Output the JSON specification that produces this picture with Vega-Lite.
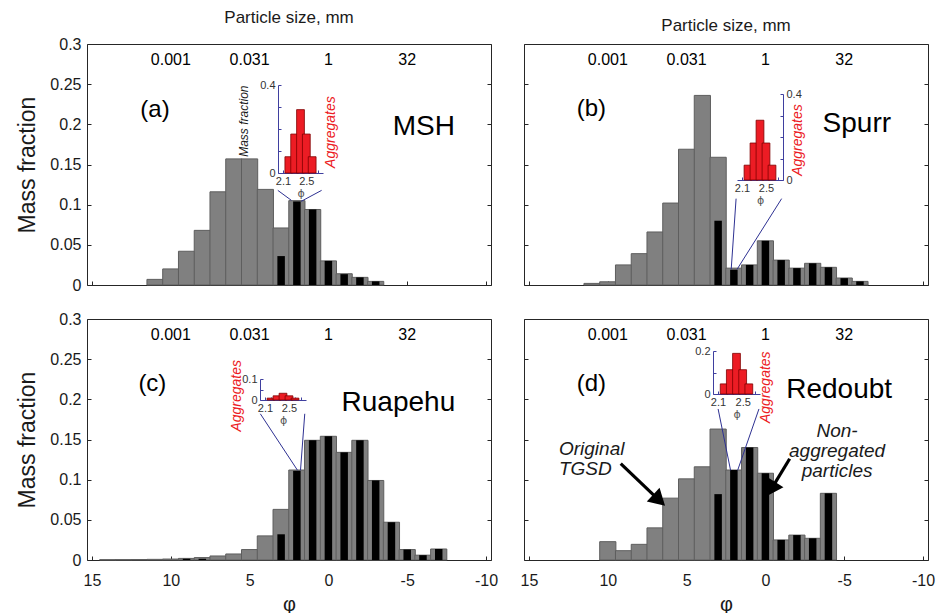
{
  "$schema": "https://vega.github.io/schema/vega-lite/v6.json",
  "padding": {"left": 16, "top": 8, "right": 0, "bottom": 0},
  "background": "white",
  "config": {
    "font": "Liberation Sans",
    "view": {"stroke": "#262626", "strokeWidth": 1},
    "axis": {"grid": false, "domain": false, "labelColor": "#1a1a1a", "titleColor": "#1a1a1a", "tickColor": "#262626", "titleFontWeight": "normal", "labelFlush": false, "labelOverlap": false},
    "title": {"fontWeight": "normal", "fontSize": 17, "color": "#1a1a1a", "offset": 9},
    "text": {"color": "#000000"}
  },
  "datasets": {
    "bars": [
      {"panel": "a", "phi": 11, "tgsd": 0.007},
      {"panel": "a", "phi": 10, "tgsd": 0.020},
      {"panel": "a", "phi": 9, "tgsd": 0.042},
      {"panel": "a", "phi": 8, "tgsd": 0.068},
      {"panel": "a", "phi": 7, "tgsd": 0.116},
      {"panel": "a", "phi": 6, "tgsd": 0.157},
      {"panel": "a", "phi": 5, "tgsd": 0.157},
      {"panel": "a", "phi": 4, "tgsd": 0.119},
      {"panel": "a", "phi": 3, "tgsd": 0.071, "nonagg": 0.036},
      {"panel": "a", "phi": 2, "tgsd": 0.105, "nonagg": 0.104},
      {"panel": "a", "phi": 1, "tgsd": 0.094, "nonagg": 0.094},
      {"panel": "a", "phi": 0, "tgsd": 0.030, "nonagg": 0.030},
      {"panel": "a", "phi": -1, "tgsd": 0.014, "nonagg": 0.0135},
      {"panel": "a", "phi": -2, "tgsd": 0.0095, "nonagg": 0.0095},
      {"panel": "a", "phi": -3, "tgsd": 0.0045, "nonagg": 0.0045},
      {"panel": "b", "phi": 11, "tgsd": 0.002},
      {"panel": "b", "phi": 10, "tgsd": 0.004},
      {"panel": "b", "phi": 9, "tgsd": 0.025},
      {"panel": "b", "phi": 8, "tgsd": 0.039},
      {"panel": "b", "phi": 7, "tgsd": 0.066},
      {"panel": "b", "phi": 6, "tgsd": 0.102},
      {"panel": "b", "phi": 5, "tgsd": 0.169},
      {"panel": "b", "phi": 4, "tgsd": 0.236},
      {"panel": "b", "phi": 3, "tgsd": 0.159, "nonagg": 0.080},
      {"panel": "b", "phi": 2, "tgsd": 0.021, "nonagg": 0.019},
      {"panel": "b", "phi": 1, "tgsd": 0.025, "nonagg": 0.025},
      {"panel": "b", "phi": 0, "tgsd": 0.055, "nonagg": 0.055},
      {"panel": "b", "phi": -1, "tgsd": 0.031, "nonagg": 0.031},
      {"panel": "b", "phi": -2, "tgsd": 0.021, "nonagg": 0.021},
      {"panel": "b", "phi": -3, "tgsd": 0.027, "nonagg": 0.027},
      {"panel": "b", "phi": -4, "tgsd": 0.022, "nonagg": 0.022},
      {"panel": "b", "phi": -5, "tgsd": 0.0087, "nonagg": 0.0085},
      {"panel": "b", "phi": -6, "tgsd": 0.0045, "nonagg": 0.0045},
      {"panel": "c", "phi": 14, "tgsd": 0.0004},
      {"panel": "c", "phi": 13, "tgsd": 0.0005},
      {"panel": "c", "phi": 12, "tgsd": 0.0006},
      {"panel": "c", "phi": 11, "tgsd": 0.0008},
      {"panel": "c", "phi": 10, "tgsd": 0.0012},
      {"panel": "c", "phi": 9, "tgsd": 0.002, "nonagg": 0.0015},
      {"panel": "c", "phi": 8, "tgsd": 0.003, "nonagg": 0.0015},
      {"panel": "c", "phi": 7, "tgsd": 0.005},
      {"panel": "c", "phi": 6, "tgsd": 0.0075},
      {"panel": "c", "phi": 5, "tgsd": 0.013},
      {"panel": "c", "phi": 4, "tgsd": 0.030},
      {"panel": "c", "phi": 3, "tgsd": 0.063, "nonagg": 0.032},
      {"panel": "c", "phi": 2, "tgsd": 0.112, "nonagg": 0.111},
      {"panel": "c", "phi": 1, "tgsd": 0.149, "nonagg": 0.149},
      {"panel": "c", "phi": 0, "tgsd": 0.154, "nonagg": 0.154},
      {"panel": "c", "phi": -1, "tgsd": 0.134, "nonagg": 0.134},
      {"panel": "c", "phi": -2, "tgsd": 0.149, "nonagg": 0.149},
      {"panel": "c", "phi": -3, "tgsd": 0.099, "nonagg": 0.099},
      {"panel": "c", "phi": -4, "tgsd": 0.047, "nonagg": 0.047},
      {"panel": "c", "phi": -5, "tgsd": 0.013, "nonagg": 0.013},
      {"panel": "c", "phi": -6, "tgsd": 0.006, "nonagg": 0.006},
      {"panel": "c", "phi": -7, "tgsd": 0.0137, "nonagg": 0.0137},
      {"panel": "d", "phi": 10, "tgsd": 0.0228},
      {"panel": "d", "phi": 9, "tgsd": 0.0116},
      {"panel": "d", "phi": 8, "tgsd": 0.0195},
      {"panel": "d", "phi": 7, "tgsd": 0.040},
      {"panel": "d", "phi": 6, "tgsd": 0.077},
      {"panel": "d", "phi": 5, "tgsd": 0.101},
      {"panel": "d", "phi": 4, "tgsd": 0.116},
      {"panel": "d", "phi": 3, "tgsd": 0.163, "nonagg": 0.082},
      {"panel": "d", "phi": 2, "tgsd": 0.112, "nonagg": 0.112},
      {"panel": "d", "phi": 1, "tgsd": 0.140, "nonagg": 0.140},
      {"panel": "d", "phi": 0, "tgsd": 0.108, "nonagg": 0.108},
      {"panel": "d", "phi": -1, "tgsd": 0.025, "nonagg": 0.025},
      {"panel": "d", "phi": -2, "tgsd": 0.031, "nonagg": 0.031},
      {"panel": "d", "phi": -3, "tgsd": 0.027, "nonagg": 0.027},
      {"panel": "d", "phi": -4, "tgsd": 0.083, "nonagg": 0.083}
    ],
    "agg": [
      {"panel": "a", "phi": 2.2, "frac": 0.074},
      {"panel": "a", "phi": 2.3, "frac": 0.177},
      {"panel": "a", "phi": 2.4, "frac": 0.288},
      {"panel": "a", "phi": 2.5, "frac": 0.177},
      {"panel": "a", "phi": 2.6, "frac": 0.074},
      {"panel": "b", "phi": 2.2, "frac": 0.069},
      {"panel": "b", "phi": 2.3, "frac": 0.172},
      {"panel": "b", "phi": 2.4, "frac": 0.278},
      {"panel": "b", "phi": 2.5, "frac": 0.172},
      {"panel": "b", "phi": 2.6, "frac": 0.069},
      {"panel": "c", "phi": 2.2, "frac": 0.009},
      {"panel": "c", "phi": 2.3, "frac": 0.020},
      {"panel": "c", "phi": 2.4, "frac": 0.032},
      {"panel": "c", "phi": 2.5, "frac": 0.020},
      {"panel": "c", "phi": 2.6, "frac": 0.009},
      {"panel": "d", "phi": 2.2, "frac": 0.047},
      {"panel": "d", "phi": 2.3, "frac": 0.113},
      {"panel": "d", "phi": 2.4, "frac": 0.189},
      {"panel": "d", "phi": 2.5, "frac": 0.113},
      {"panel": "d", "phi": 2.6, "frac": 0.047}
    ],
    "links": [
      {"panel": "a", "side": "L", "phi": 3.21, "value": 0.1178},
      {"panel": "a", "side": "L", "phi": 2.35, "value": 0.1054},
      {"panel": "a", "side": "R", "phi": 0.43, "value": 0.1178},
      {"panel": "a", "side": "R", "phi": 1.73, "value": 0.1041},
      {"panel": "b", "side": "L", "phi": 1.86, "value": 0.1075},
      {"panel": "b", "side": "L", "phi": 2.17, "value": 0.0195},
      {"panel": "b", "side": "R", "phi": -1.03, "value": 0.1075},
      {"panel": "b", "side": "R", "phi": 1.8, "value": 0.0195},
      {"panel": "c", "side": "L", "phi": 4.32, "value": 0.182},
      {"panel": "c", "side": "L", "phi": 1.96, "value": 0.1117},
      {"panel": "c", "side": "R", "phi": 1.5, "value": 0.182},
      {"panel": "c", "side": "R", "phi": 1.77, "value": 0.1117},
      {"panel": "d", "side": "L", "phi": 3.0, "value": 0.188},
      {"panel": "d", "side": "L", "phi": 2.21, "value": 0.1117},
      {"panel": "d", "side": "R", "phi": 0.41, "value": 0.188},
      {"panel": "d", "side": "R", "phi": 1.76, "value": 0.1117}
    ],
    "sizes": [
      {"phi": 10, "label": "0.001"},
      {"phi": 5, "label": "0.031"},
      {"phi": 0, "label": "1"},
      {"phi": -5, "label": "32"}
    ],
    "tags": [
      {"panel": "a", "phi": 11, "value": 0.218, "label": "(a)"},
      {"panel": "b", "phi": 11.04, "value": 0.219, "label": "(b)"},
      {"panel": "c", "phi": 11.17, "value": 0.219, "label": "(c)"},
      {"panel": "d", "phi": 11.04, "value": 0.219, "label": "(d)"}
    ],
    "names": [
      {"panel": "a", "phi": -6.05, "value": 0.197, "label": "MSH"},
      {"panel": "b", "phi": -5.8, "value": 0.2, "label": "Spurr"},
      {"panel": "c", "phi": -4.44, "value": 0.195, "label": "Ruapehu"},
      {"panel": "d", "phi": -4.68, "value": 0.212, "label": "Redoubt"}
    ],
    "aggtext": [
      {"panel": "a", "x": 2.927, "y": 0.186, "label": "Aggregates"},
      {"panel": "b", "x": 3.041, "y": 0.186, "label": "Aggregates"},
      {"panel": "c", "x": 1.627, "y": 0.0199, "label": "Aggregates"},
      {"panel": "d", "x": 2.884, "y": 0.0316, "label": "Aggregates"}
    ],
    "arrows": [
      {"arrow": "orig", "phi": 9.18, "value": 0.12},
      {"arrow": "orig", "phi": 6.87, "value": 0.0768},
      {"arrow": "nonagg", "phi": -1.54, "value": 0.126},
      {"arrow": "nonagg", "phi": -0.46, "value": 0.091}
    ],
    "heads": [
      {"arrow": "orig", "phi": 6.87, "value": 0.0768},
      {"arrow": "nonagg", "phi": -0.46, "value": 0.091}
    ],
    "notes": [
      {"note": "orig", "phi": 13.1, "value": 0.1376, "label": "Original\nTGSD"},
      {"note": "nonagg", "phi": -4.55, "value": 0.1606, "label": "Non-\naggregated\nparticles"}
    ]
  },
  "spacing": 16,
  "vconcat": [
    {
      "spacing": 33,
      "bounds": "flush",
      "hconcat": [
        {
          "width": 404, "height": 241,
          "title": {"text": "Particle size, mm", "fontSize": 17, "fontWeight": "normal", "offset": 9},
          "resolve": {"scale": {"x": "independent", "y": "independent"}, "axis": {"x": "independent", "y": "independent"}},
          "layer": [
            {
              "resolve": {"axis": {"x": "independent", "y": "independent"}},
              "layer": [
                {
                  "data": {"name": "bars"},
                  "transform": [{"filter": "datum.panel == 'a'"}],
                  "mark": {"type": "bar", "size": 16.2, "fill": "#808080", "stroke": "#5e5e5e", "strokeWidth": 1},
                  "encoding": {
                    "x": {"field": "phi", "type": "quantitative", "scale": {"domain": [-10, 15], "reverse": true, "nice": false, "zero": false}, "axis": {"orient": "bottom", "values": [15, 10, 5, 0, -5, -10], "tickSize": -4, "labels": false, "title": null}},
                    "y": {"field": "tgsd", "type": "quantitative", "scale": {"domain": [0, 0.3], "nice": false}, "axis": {"orient": "left", "values": [0, 0.05, 0.1, 0.15, 0.2, 0.25, 0.3], "labelExpr": "'' + datum.value", "tickSize": -4, "labelPadding": 10, "labelFontSize": 16, "title": "Mass fraction", "titleFontSize": 23, "titlePadding": 10}}
                  }
                },
                {
                  "data": {"name": "bars"},
                  "transform": [{"filter": "datum.panel == 'a' && isValid(datum.nonagg)"}],
                  "mark": {"type": "bar", "size": 7.5, "fill": "#000000"},
                  "encoding": {
                    "x": {"field": "phi", "type": "quantitative", "scale": {"domain": [-10, 15], "reverse": true, "nice": false, "zero": false}, "axis": null},
                    "y": {"field": "nonagg", "type": "quantitative", "scale": {"domain": [0, 0.3], "nice": false}, "axis": null}
                  }
                },
                {
                  "data": {"name": "links"},
                  "transform": [{"filter": "datum.panel == 'a'"}],
                  "mark": {"type": "line", "stroke": "#2e3192", "strokeWidth": 1},
                  "encoding": {
                    "x": {"field": "phi", "type": "quantitative", "scale": {"domain": [-10, 15], "reverse": true, "nice": false, "zero": false}, "axis": null},
                    "y": {"field": "value", "type": "quantitative", "scale": {"domain": [0, 0.3], "nice": false}, "axis": null},
                    "detail": {"field": "side"}
                  }
                },
                {
                  "data": {"name": "sizes"},
                  "mark": {"type": "text", "fontSize": 16, "baseline": "middle"},
                  "encoding": {
                    "x": {"field": "phi", "type": "quantitative", "scale": {"domain": [-10, 15], "reverse": true, "nice": false, "zero": false}, "axis": null},
                    "y": {"datum": 0.28, "type": "quantitative", "scale": {"domain": [0, 0.3], "nice": false}, "axis": null},
                    "text": {"field": "label"}
                  }
                },
                {
                  "data": {"name": "tags"},
                  "transform": [{"filter": "datum.panel == 'a'"}],
                  "mark": {"type": "text", "fontSize": 24, "baseline": "middle"},
                  "encoding": {
                    "x": {"field": "phi", "type": "quantitative", "scale": {"domain": [-10, 15], "reverse": true, "nice": false, "zero": false}, "axis": null},
                    "y": {"field": "value", "type": "quantitative", "scale": {"domain": [0, 0.3], "nice": false}, "axis": null},
                    "text": {"field": "label"}
                  }
                },
                {
                  "data": {"name": "names"},
                  "transform": [{"filter": "datum.panel == 'a'"}],
                  "mark": {"type": "text", "fontSize": 28, "baseline": "middle"},
                  "encoding": {
                    "x": {"field": "phi", "type": "quantitative", "scale": {"domain": [-10, 15], "reverse": true, "nice": false, "zero": false}, "axis": null},
                    "y": {"field": "value", "type": "quantitative", "scale": {"domain": [0, 0.3], "nice": false}, "axis": {"orient": "right", "values": [0, 0.05, 0.1, 0.15, 0.2, 0.25, 0.3], "tickSize": -4, "labels": false, "title": null}},
                    "text": {"field": "label"}
                  }
                }
              ]
            },
            {
              "resolve": {"axis": {"x": "independent", "y": "independent"}},
              "layer": [
                {
                  "data": {"name": "agg"},
                  "transform": [{"filter": "datum.panel == 'a'"}],
                  "mark": {"type": "bar", "size": 7.8, "fill": "#ec1c24", "stroke": "#7f0000", "strokeWidth": 0.8},
                  "encoding": {
                    "x": {"field": "phi", "type": "quantitative", "scale": {"domain": [2.1, 2.7], "range": [191, 236], "nice": false, "zero": false}, "axis": {"orient": "bottom", "values": [2.1, 2.2, 2.3, 2.4, 2.5, 2.6, 2.7], "labelExpr": "datum.value == 2.1 || datum.value == 2.5 ? '' + datum.value : ''", "offset": -112, "domain": true, "domainColor": "#3f3f9f", "tickColor": "#3f3f9f", "tickSize": -3, "labelPadding": 5, "labelFontSize": 11, "labelColor": "#333333", "title": "ϕ", "titleFont": "DejaVu Sans", "titleFontSize": 11, "titlePadding": 1, "titleColor": "#555555"}},
                    "y": {"field": "frac", "type": "quantitative", "scale": {"domain": [0, 0.4], "range": [129, 41], "nice": false}, "axis": {"orient": "left", "offset": -191, "values": [0, 0.1, 0.2, 0.3, 0.4], "labelExpr": "datum.value == 0 || datum.value == 0.4 ? '' + datum.value : ''", "domain": true, "domainColor": "#3f3f9f", "tickColor": "#3f3f9f", "tickSize": -3, "labelPadding": 6, "labelFontSize": 11, "labelColor": "#333333", "title": "Mass fraction", "titleFontSize": 12, "titleFontStyle": "italic", "titleColor": "#1a1a1a", "titleAnchor": "end", "titlePadding": 9}}
                  }
                },
                {
                  "data": {"name": "aggtext"},
                  "transform": [{"filter": "datum.panel == 'a'"}],
                  "mark": {"type": "text", "fontSize": 14, "fontStyle": "italic", "fill": "#ec1c24", "angle": 270, "baseline": "middle"},
                  "encoding": {
                    "x": {"field": "x", "type": "quantitative", "scale": {"domain": [2.1, 2.7], "range": [191, 236], "nice": false, "zero": false}, "axis": null},
                    "y": {"field": "y", "type": "quantitative", "scale": {"domain": [0, 0.4], "range": [129, 41], "nice": false}, "axis": null},
                    "text": {"field": "label"}
                  }
                }
              ]
            }
          ]
        },
        {
          "width": 404, "height": 241,
          "title": {"text": "Particle size, mm", "fontSize": 17, "fontWeight": "normal", "offset": 9},
          "resolve": {"scale": {"x": "independent", "y": "independent"}, "axis": {"x": "independent", "y": "independent"}},
          "layer": [
            {
              "resolve": {"axis": {"x": "independent", "y": "independent"}},
              "layer": [
                {
                  "data": {"name": "bars"},
                  "transform": [{"filter": "datum.panel == 'b'"}],
                  "mark": {"type": "bar", "size": 16.2, "fill": "#808080", "stroke": "#5e5e5e", "strokeWidth": 1},
                  "encoding": {
                    "x": {"field": "phi", "type": "quantitative", "scale": {"domain": [-10, 15], "reverse": true, "nice": false, "zero": false}, "axis": {"orient": "bottom", "values": [15, 10, 5, 0, -5, -10], "tickSize": -4, "labels": false, "title": null}},
                    "y": {"field": "tgsd", "type": "quantitative", "scale": {"domain": [0, 0.3], "nice": false}, "axis": {"orient": "left", "values": [0, 0.05, 0.1, 0.15, 0.2, 0.25, 0.3], "tickSize": -4, "labels": false, "title": null}}
                  }
                },
                {
                  "data": {"name": "bars"},
                  "transform": [{"filter": "datum.panel == 'b' && isValid(datum.nonagg)"}],
                  "mark": {"type": "bar", "size": 7.5, "fill": "#000000"},
                  "encoding": {
                    "x": {"field": "phi", "type": "quantitative", "scale": {"domain": [-10, 15], "reverse": true, "nice": false, "zero": false}, "axis": null},
                    "y": {"field": "nonagg", "type": "quantitative", "scale": {"domain": [0, 0.3], "nice": false}, "axis": null}
                  }
                },
                {
                  "data": {"name": "links"},
                  "transform": [{"filter": "datum.panel == 'b'"}],
                  "mark": {"type": "line", "stroke": "#2e3192", "strokeWidth": 1},
                  "encoding": {
                    "x": {"field": "phi", "type": "quantitative", "scale": {"domain": [-10, 15], "reverse": true, "nice": false, "zero": false}, "axis": null},
                    "y": {"field": "value", "type": "quantitative", "scale": {"domain": [0, 0.3], "nice": false}, "axis": null},
                    "detail": {"field": "side"}
                  }
                },
                {
                  "data": {"name": "sizes"},
                  "mark": {"type": "text", "fontSize": 16, "baseline": "middle"},
                  "encoding": {
                    "x": {"field": "phi", "type": "quantitative", "scale": {"domain": [-10, 15], "reverse": true, "nice": false, "zero": false}, "axis": null},
                    "y": {"datum": 0.28, "type": "quantitative", "scale": {"domain": [0, 0.3], "nice": false}, "axis": null},
                    "text": {"field": "label"}
                  }
                },
                {
                  "data": {"name": "tags"},
                  "transform": [{"filter": "datum.panel == 'b'"}],
                  "mark": {"type": "text", "fontSize": 24, "baseline": "middle"},
                  "encoding": {
                    "x": {"field": "phi", "type": "quantitative", "scale": {"domain": [-10, 15], "reverse": true, "nice": false, "zero": false}, "axis": null},
                    "y": {"field": "value", "type": "quantitative", "scale": {"domain": [0, 0.3], "nice": false}, "axis": null},
                    "text": {"field": "label"}
                  }
                },
                {
                  "data": {"name": "names"},
                  "transform": [{"filter": "datum.panel == 'b'"}],
                  "mark": {"type": "text", "fontSize": 28, "baseline": "middle"},
                  "encoding": {
                    "x": {"field": "phi", "type": "quantitative", "scale": {"domain": [-10, 15], "reverse": true, "nice": false, "zero": false}, "axis": null},
                    "y": {"field": "value", "type": "quantitative", "scale": {"domain": [0, 0.3], "nice": false}, "axis": {"orient": "right", "values": [0, 0.05, 0.1, 0.15, 0.2, 0.25, 0.3], "tickSize": -4, "labels": false, "title": null}},
                    "text": {"field": "label"}
                  }
                }
              ]
            },
            {
              "resolve": {"axis": {"x": "independent", "y": "independent"}},
              "layer": [
                {
                  "data": {"name": "agg"},
                  "transform": [{"filter": "datum.panel == 'b'"}],
                  "mark": {"type": "bar", "size": 7.8, "fill": "#ec1c24", "stroke": "#7f0000", "strokeWidth": 0.8},
                  "encoding": {
                    "x": {"field": "phi", "type": "quantitative", "scale": {"domain": [2.1, 2.7], "range": [213, 259], "nice": false, "zero": false}, "axis": {"orient": "bottom", "values": [2.1, 2.2, 2.3, 2.4, 2.5, 2.6, 2.7], "labelExpr": "datum.value == 2.1 || datum.value == 2.5 ? '' + datum.value : ''", "offset": -105, "domain": true, "domainColor": "#3f3f9f", "tickColor": "#3f3f9f", "tickSize": -3, "labelPadding": 5, "labelFontSize": 11, "labelColor": "#333333", "title": "ϕ", "titleFont": "DejaVu Sans", "titleFontSize": 11, "titlePadding": 1, "titleColor": "#555555"}},
                    "y": {"field": "frac", "type": "quantitative", "scale": {"domain": [0, 0.4], "range": [136, 50], "nice": false}, "axis": {"orient": "right", "offset": -145, "values": [0, 0.1, 0.2, 0.3, 0.4], "labelExpr": "datum.value == 0 || datum.value == 0.4 ? '' + datum.value : ''", "domain": true, "domainColor": "#3f3f9f", "tickColor": "#3f3f9f", "tickSize": -3, "labelPadding": 6, "labelFontSize": 11, "labelColor": "#333333", "title": null}}
                  }
                },
                {
                  "data": {"name": "aggtext"},
                  "transform": [{"filter": "datum.panel == 'b'"}],
                  "mark": {"type": "text", "fontSize": 14, "fontStyle": "italic", "fill": "#ec1c24", "angle": 270, "baseline": "middle"},
                  "encoding": {
                    "x": {"field": "x", "type": "quantitative", "scale": {"domain": [2.1, 2.7], "range": [213, 259], "nice": false, "zero": false}, "axis": null},
                    "y": {"field": "y", "type": "quantitative", "scale": {"domain": [0, 0.4], "range": [136, 50], "nice": false}, "axis": null},
                    "text": {"field": "label"}
                  }
                }
              ]
            }
          ]
        }
      ]
    },
    {
      "spacing": 33,
      "bounds": "flush",
      "hconcat": [
        {
          "width": 404, "height": 241,
          "resolve": {"scale": {"x": "independent", "y": "independent"}, "axis": {"x": "independent", "y": "independent"}},
          "layer": [
            {
              "resolve": {"axis": {"x": "independent", "y": "independent"}},
              "layer": [
                {
                  "data": {"name": "bars"},
                  "transform": [{"filter": "datum.panel == 'c'"}],
                  "mark": {"type": "bar", "size": 16.2, "fill": "#808080", "stroke": "#5e5e5e", "strokeWidth": 1},
                  "encoding": {
                    "x": {"field": "phi", "type": "quantitative", "scale": {"domain": [-10, 15], "reverse": true, "nice": false, "zero": false}, "axis": {"orient": "bottom", "values": [15, 10, 5, 0, -5, -10], "labelExpr": "'' + datum.value", "tickSize": -4, "labelPadding": 16, "labelFontSize": 16, "title": "φ", "titleFontSize": 20, "titlePadding": 6}},
                    "y": {"field": "tgsd", "type": "quantitative", "scale": {"domain": [0, 0.3], "nice": false}, "axis": {"orient": "left", "values": [0, 0.05, 0.1, 0.15, 0.2, 0.25, 0.3], "labelExpr": "'' + datum.value", "tickSize": -4, "labelPadding": 10, "labelFontSize": 16, "title": "Mass fraction", "titleFontSize": 23, "titlePadding": 10}}
                  }
                },
                {
                  "data": {"name": "bars"},
                  "transform": [{"filter": "datum.panel == 'c' && isValid(datum.nonagg)"}],
                  "mark": {"type": "bar", "size": 7.5, "fill": "#000000"},
                  "encoding": {
                    "x": {"field": "phi", "type": "quantitative", "scale": {"domain": [-10, 15], "reverse": true, "nice": false, "zero": false}, "axis": null},
                    "y": {"field": "nonagg", "type": "quantitative", "scale": {"domain": [0, 0.3], "nice": false}, "axis": null}
                  }
                },
                {
                  "data": {"name": "links"},
                  "transform": [{"filter": "datum.panel == 'c'"}],
                  "mark": {"type": "line", "stroke": "#2e3192", "strokeWidth": 1},
                  "encoding": {
                    "x": {"field": "phi", "type": "quantitative", "scale": {"domain": [-10, 15], "reverse": true, "nice": false, "zero": false}, "axis": null},
                    "y": {"field": "value", "type": "quantitative", "scale": {"domain": [0, 0.3], "nice": false}, "axis": null},
                    "detail": {"field": "side"}
                  }
                },
                {
                  "data": {"name": "sizes"},
                  "mark": {"type": "text", "fontSize": 16, "baseline": "middle"},
                  "encoding": {
                    "x": {"field": "phi", "type": "quantitative", "scale": {"domain": [-10, 15], "reverse": true, "nice": false, "zero": false}, "axis": null},
                    "y": {"datum": 0.28, "type": "quantitative", "scale": {"domain": [0, 0.3], "nice": false}, "axis": null},
                    "text": {"field": "label"}
                  }
                },
                {
                  "data": {"name": "tags"},
                  "transform": [{"filter": "datum.panel == 'c'"}],
                  "mark": {"type": "text", "fontSize": 24, "baseline": "middle"},
                  "encoding": {
                    "x": {"field": "phi", "type": "quantitative", "scale": {"domain": [-10, 15], "reverse": true, "nice": false, "zero": false}, "axis": null},
                    "y": {"field": "value", "type": "quantitative", "scale": {"domain": [0, 0.3], "nice": false}, "axis": null},
                    "text": {"field": "label"}
                  }
                },
                {
                  "data": {"name": "names"},
                  "transform": [{"filter": "datum.panel == 'c'"}],
                  "mark": {"type": "text", "fontSize": 28, "baseline": "middle"},
                  "encoding": {
                    "x": {"field": "phi", "type": "quantitative", "scale": {"domain": [-10, 15], "reverse": true, "nice": false, "zero": false}, "axis": null},
                    "y": {"field": "value", "type": "quantitative", "scale": {"domain": [0, 0.3], "nice": false}, "axis": {"orient": "right", "values": [0, 0.05, 0.1, 0.15, 0.2, 0.25, 0.3], "tickSize": -4, "labels": false, "title": null}},
                    "text": {"field": "label"}
                  }
                }
              ]
            },
            {
              "resolve": {"axis": {"x": "independent", "y": "independent"}},
              "layer": [
                {
                  "data": {"name": "agg"},
                  "transform": [{"filter": "datum.panel == 'c'"}],
                  "mark": {"type": "bar", "size": 7.8, "fill": "#ec1c24", "stroke": "#7f0000", "strokeWidth": 0.8},
                  "encoding": {
                    "x": {"field": "phi", "type": "quantitative", "scale": {"domain": [2.1, 2.7], "range": [173, 219], "nice": false, "zero": false}, "axis": {"orient": "bottom", "values": [2.1, 2.2, 2.3, 2.4, 2.5, 2.6, 2.7], "labelExpr": "datum.value == 2.1 || datum.value == 2.5 ? '' + datum.value : ''", "offset": -160, "domain": true, "domainColor": "#3f3f9f", "tickColor": "#3f3f9f", "tickSize": -3, "labelPadding": 5, "labelFontSize": 11, "labelColor": "#333333", "title": "ϕ", "titleFont": "DejaVu Sans", "titleFontSize": 11, "titlePadding": 1, "titleColor": "#555555"}},
                    "y": {"field": "frac", "type": "quantitative", "scale": {"domain": [0, 0.1], "range": [81, 60], "nice": false}, "axis": {"orient": "left", "offset": -173, "values": [0, 0.05, 0.1], "labelExpr": "datum.value == 0 || datum.value == 0.1 ? '' + datum.value : ''", "domain": true, "domainColor": "#3f3f9f", "tickColor": "#3f3f9f", "tickSize": -3, "labelPadding": 6, "labelFontSize": 11, "labelColor": "#333333", "title": null}}
                  }
                },
                {
                  "data": {"name": "aggtext"},
                  "transform": [{"filter": "datum.panel == 'c'"}],
                  "mark": {"type": "text", "fontSize": 14, "fontStyle": "italic", "fill": "#ec1c24", "angle": 270, "baseline": "middle"},
                  "encoding": {
                    "x": {"field": "x", "type": "quantitative", "scale": {"domain": [2.1, 2.7], "range": [173, 219], "nice": false, "zero": false}, "axis": null},
                    "y": {"field": "y", "type": "quantitative", "scale": {"domain": [0, 0.1], "range": [81, 60], "nice": false}, "axis": null},
                    "text": {"field": "label"}
                  }
                }
              ]
            }
          ]
        },
        {
          "width": 404, "height": 241,
          "resolve": {"scale": {"x": "independent", "y": "independent"}, "axis": {"x": "independent", "y": "independent"}},
          "layer": [
            {
              "resolve": {"axis": {"x": "independent", "y": "independent"}},
              "layer": [
                {
                  "data": {"name": "bars"},
                  "transform": [{"filter": "datum.panel == 'd'"}],
                  "mark": {"type": "bar", "size": 16.2, "fill": "#808080", "stroke": "#5e5e5e", "strokeWidth": 1},
                  "encoding": {
                    "x": {"field": "phi", "type": "quantitative", "scale": {"domain": [-10, 15], "reverse": true, "nice": false, "zero": false}, "axis": {"orient": "bottom", "values": [15, 10, 5, 0, -5, -10], "labelExpr": "'' + datum.value", "tickSize": -4, "labelPadding": 16, "labelFontSize": 16, "title": "φ", "titleFontSize": 20, "titlePadding": 6}},
                    "y": {"field": "tgsd", "type": "quantitative", "scale": {"domain": [0, 0.3], "nice": false}, "axis": {"orient": "left", "values": [0, 0.05, 0.1, 0.15, 0.2, 0.25, 0.3], "tickSize": -4, "labels": false, "title": null}}
                  }
                },
                {
                  "data": {"name": "bars"},
                  "transform": [{"filter": "datum.panel == 'd' && isValid(datum.nonagg)"}],
                  "mark": {"type": "bar", "size": 7.5, "fill": "#000000"},
                  "encoding": {
                    "x": {"field": "phi", "type": "quantitative", "scale": {"domain": [-10, 15], "reverse": true, "nice": false, "zero": false}, "axis": null},
                    "y": {"field": "nonagg", "type": "quantitative", "scale": {"domain": [0, 0.3], "nice": false}, "axis": null}
                  }
                },
                {
                  "data": {"name": "links"},
                  "transform": [{"filter": "datum.panel == 'd'"}],
                  "mark": {"type": "line", "stroke": "#2e3192", "strokeWidth": 1},
                  "encoding": {
                    "x": {"field": "phi", "type": "quantitative", "scale": {"domain": [-10, 15], "reverse": true, "nice": false, "zero": false}, "axis": null},
                    "y": {"field": "value", "type": "quantitative", "scale": {"domain": [0, 0.3], "nice": false}, "axis": null},
                    "detail": {"field": "side"}
                  }
                },
                {
                  "data": {"name": "arrows"},
                  "mark": {"type": "line", "stroke": "#000000", "strokeWidth": 3.2},
                  "encoding": {
                    "x": {"field": "phi", "type": "quantitative", "scale": {"domain": [-10, 15], "reverse": true, "nice": false, "zero": false}, "axis": null},
                    "y": {"field": "value", "type": "quantitative", "scale": {"domain": [0, 0.3], "nice": false}, "axis": null},
                    "detail": {"field": "arrow"}
                  }
                },
                {
                  "data": {"name": "heads"},
                  "transform": [{"filter": "datum.arrow == 'orig'"}],
                  "mark": {"type": "point", "shape": "triangle", "angle": 133, "size": 350, "filled": true, "fill": "#000000", "opacity": 1, "strokeWidth": 0},
                  "encoding": {
                    "x": {"field": "phi", "type": "quantitative", "scale": {"domain": [-10, 15], "reverse": true, "nice": false, "zero": false}, "axis": null},
                    "y": {"field": "value", "type": "quantitative", "scale": {"domain": [0, 0.3], "nice": false}, "axis": null}
                  }
                },
                {
                  "data": {"name": "heads"},
                  "transform": [{"filter": "datum.arrow == 'nonagg'"}],
                  "mark": {"type": "point", "shape": "triangle", "angle": 212, "size": 350, "filled": true, "fill": "#000000", "opacity": 1, "strokeWidth": 0},
                  "encoding": {
                    "x": {"field": "phi", "type": "quantitative", "scale": {"domain": [-10, 15], "reverse": true, "nice": false, "zero": false}, "axis": null},
                    "y": {"field": "value", "type": "quantitative", "scale": {"domain": [0, 0.3], "nice": false}, "axis": null}
                  }
                },
                {
                  "data": {"name": "notes"},
                  "transform": [{"filter": "datum.note == 'orig'"}],
                  "mark": {"type": "text", "fontSize": 19, "fontStyle": "italic", "align": "left", "baseline": "middle", "lineBreak": "\n", "lineHeight": 20, "fill": "#1a1a1a"},
                  "encoding": {
                    "x": {"field": "phi", "type": "quantitative", "scale": {"domain": [-10, 15], "reverse": true, "nice": false, "zero": false}, "axis": null},
                    "y": {"field": "value", "type": "quantitative", "scale": {"domain": [0, 0.3], "nice": false}, "axis": null},
                    "text": {"field": "label"}
                  }
                },
                {
                  "data": {"name": "notes"},
                  "transform": [{"filter": "datum.note == 'nonagg'"}],
                  "mark": {"type": "text", "fontSize": 19, "fontStyle": "italic", "align": "center", "baseline": "middle", "lineBreak": "\n", "lineHeight": 20, "fill": "#1a1a1a"},
                  "encoding": {
                    "x": {"field": "phi", "type": "quantitative", "scale": {"domain": [-10, 15], "reverse": true, "nice": false, "zero": false}, "axis": null},
                    "y": {"field": "value", "type": "quantitative", "scale": {"domain": [0, 0.3], "nice": false}, "axis": null},
                    "text": {"field": "label"}
                  }
                },
                {
                  "data": {"name": "sizes"},
                  "mark": {"type": "text", "fontSize": 16, "baseline": "middle"},
                  "encoding": {
                    "x": {"field": "phi", "type": "quantitative", "scale": {"domain": [-10, 15], "reverse": true, "nice": false, "zero": false}, "axis": null},
                    "y": {"datum": 0.28, "type": "quantitative", "scale": {"domain": [0, 0.3], "nice": false}, "axis": null},
                    "text": {"field": "label"}
                  }
                },
                {
                  "data": {"name": "tags"},
                  "transform": [{"filter": "datum.panel == 'd'"}],
                  "mark": {"type": "text", "fontSize": 24, "baseline": "middle"},
                  "encoding": {
                    "x": {"field": "phi", "type": "quantitative", "scale": {"domain": [-10, 15], "reverse": true, "nice": false, "zero": false}, "axis": null},
                    "y": {"field": "value", "type": "quantitative", "scale": {"domain": [0, 0.3], "nice": false}, "axis": null},
                    "text": {"field": "label"}
                  }
                },
                {
                  "data": {"name": "names"},
                  "transform": [{"filter": "datum.panel == 'd'"}],
                  "mark": {"type": "text", "fontSize": 28, "baseline": "middle"},
                  "encoding": {
                    "x": {"field": "phi", "type": "quantitative", "scale": {"domain": [-10, 15], "reverse": true, "nice": false, "zero": false}, "axis": null},
                    "y": {"field": "value", "type": "quantitative", "scale": {"domain": [0, 0.3], "nice": false}, "axis": {"orient": "right", "values": [0, 0.05, 0.1, 0.15, 0.2, 0.25, 0.3], "tickSize": -4, "labels": false, "title": null}},
                    "text": {"field": "label"}
                  }
                }
              ]
            },
            {
              "resolve": {"axis": {"x": "independent", "y": "independent"}},
              "layer": [
                {
                  "data": {"name": "agg"},
                  "transform": [{"filter": "datum.panel == 'd'"}],
                  "mark": {"type": "bar", "size": 7.8, "fill": "#ec1c24", "stroke": "#7f0000", "strokeWidth": 0.8},
                  "encoding": {
                    "x": {"field": "phi", "type": "quantitative", "scale": {"domain": [2.1, 2.7], "range": [189, 236], "nice": false, "zero": false}, "axis": {"orient": "bottom", "values": [2.1, 2.2, 2.3, 2.4, 2.5, 2.6, 2.7], "labelExpr": "datum.value == 2.1 || datum.value == 2.5 ? '' + datum.value : ''", "offset": -166, "domain": true, "domainColor": "#3f3f9f", "tickColor": "#3f3f9f", "tickSize": -3, "labelPadding": 5, "labelFontSize": 11, "labelColor": "#333333", "title": "ϕ", "titleFont": "DejaVu Sans", "titleFontSize": 11, "titlePadding": 1, "titleColor": "#555555"}},
                    "y": {"field": "frac", "type": "quantitative", "scale": {"domain": [0, 0.2], "range": [75, 32], "nice": false}, "axis": {"orient": "left", "offset": -189, "values": [0, 0.1, 0.2], "labelExpr": "datum.value == 0 || datum.value == 0.2 ? '' + datum.value : ''", "domain": true, "domainColor": "#3f3f9f", "tickColor": "#3f3f9f", "tickSize": -3, "labelPadding": 6, "labelFontSize": 11, "labelColor": "#333333", "title": null}}
                  }
                },
                {
                  "data": {"name": "aggtext"},
                  "transform": [{"filter": "datum.panel == 'd'"}],
                  "mark": {"type": "text", "fontSize": 14, "fontStyle": "italic", "fill": "#ec1c24", "angle": 270, "baseline": "middle"},
                  "encoding": {
                    "x": {"field": "x", "type": "quantitative", "scale": {"domain": [2.1, 2.7], "range": [189, 236], "nice": false, "zero": false}, "axis": null},
                    "y": {"field": "y", "type": "quantitative", "scale": {"domain": [0, 0.2], "range": [75, 32], "nice": false}, "axis": null},
                    "text": {"field": "label"}
                  }
                }
              ]
            }
          ]
        }
      ]
    }
  ]
}
